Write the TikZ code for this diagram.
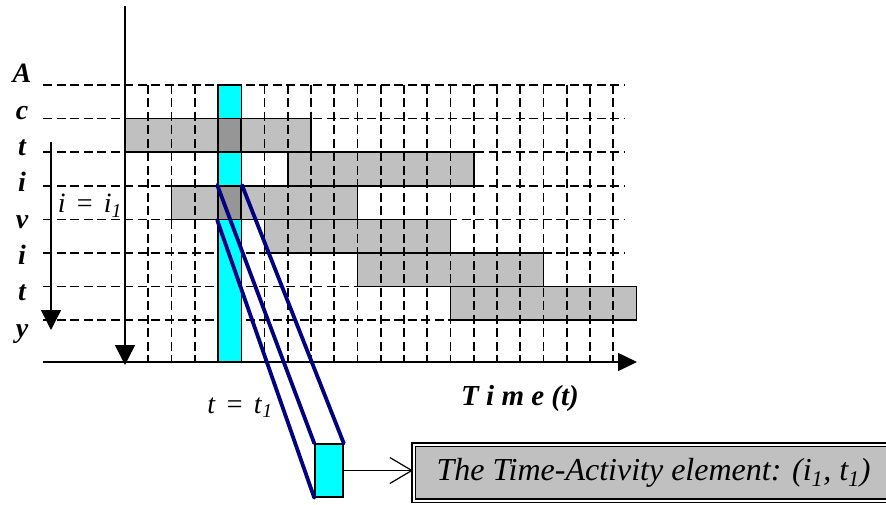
\documentclass[tikz,border=0pt]{standalone}
\usepackage{fontspec}
\setmainfont{Liberation Serif}
\usetikzlibrary{arrows.meta}
\definecolor{bargray}{HTML}{C0C0C0}
\definecolor{cellgray}{HTML}{969696}
\definecolor{elemcyan}{HTML}{00FFFF}
\definecolor{linknavy}{HTML}{000080}

\begin{document}
\begin{tikzpicture}[x=1pt, y=-1pt,
  gridline/.style={line width=1.6pt, dash pattern=on 9pt off 4.5pt},
  bar/.style={fill=bargray, draw=black, line width=1.5pt},
  hit/.style={rectangle, draw=black, fill=cellgray, line width=1.5pt, minimum width=23.25pt, minimum height=33.6pt, inner sep=0pt},
  link/.style={draw=linknavy, line width=3.8pt, line cap=round},
  letter/.style={font=\fontsize{28}{28}\selectfont\bfseries\itshape, inner sep=0pt, anchor=base},
  eqlabel/.style={font=\fontsize{28}{28}\selectfont, inner sep=0pt, anchor=base}]
\useasboundingbox (0,0) rectangle (886,505);

% activity bars
\foreach \r/\a/\b in {1/0/8, 2/7/15, 3/2/10, 4/6/14, 5/10/18, 6/14/22}
  \filldraw[bar] (125+\a*23.25, 85+\r*33.6) rectangle (125+\b*23.25, 118.6+\r*33.6);

% time-activity grid
\foreach \k in {1,...,21} \draw[gridline] (125+\k*23.25, 85) -- (125+\k*23.25, 362);
\foreach \r in {0,...,7} \draw[gridline] (43, 85+\r*33.6) -- (625, 85+\r*33.6);

% column t = t1
\filldraw[fill=elemcyan, line width=1.5pt] (218,85) rectangle (241.25,362);
\node[hit] (overlap) at (229.6,135.4) {};
\node[hit] (cell) at (229.6,202.6) {};

% axes
\coordinate (ytop) at (125,6);
\coordinate (yend) at (125,365);
\coordinate (xbeg) at (43,362);
\coordinate (xend) at (637,362);
\coordinate (itop) at (51,142);
\coordinate (iend) at (51,330);
\draw[line width=1.5pt, -{Triangle[length=20pt, width=20pt]}] (ytop) -- (yend);
\draw[line width=1.5pt, -{Triangle[length=19pt, width=18pt]}] (xbeg) -- (xend);
\draw[line width=1.5pt, -{Triangle[length=20pt, width=20pt]}] (itop) -- (iend);

\foreach \l [count=\n from 0] in {A,c,t,i,v,i,t,y}
  \node[letter] (act-\n) at (22, 83+\n*36.3) {\l};

\node[eqlabel] (ilabel) at (90,213) {\textit{i}\hspace{0.4em}=\hspace{0.4em}\textit{i}\textsubscript{\textit{1}}};
\node[eqlabel] (tlabel) at (240,413) {\textit{t}\hspace{0.4em}=\hspace{0.4em}\textit{t}\textsubscript{\textit{1}}};
\node[letter, font=\fontsize{29}{29}\selectfont\bfseries\itshape] (timelabel) at (520,405) {T i m e (t)};

% the element and its label
\node[draw, fill=elemcyan, line width=1.5pt, minimum width=28pt, minimum height=53pt, inner sep=0pt] (elem) at (329,470.5) {};
\node[draw, line width=1.2pt, double=white, double distance=2pt, fill=bargray, minimum width=490pt, minimum height=56pt, anchor=west, font=\fontsize{32}{32}\selectfont\itshape] (elemlabel) at (413,472.5) {\hspace{-10pt}The Time-Activity element: (i\textsubscript{1}, t\textsubscript{1})};

\draw[link] (cell.north west) -- (elem.north west);
\draw[link] (cell.north east) -- (elem.north east);
\draw[link] (cell.south west) -- (elem.south west);
\draw[line width=1.2pt, -{Straight Barb[length=22pt, width=26pt]}] (elem.east) -- (elem.east -| elemlabel.west);
\end{tikzpicture}
\end{document}
